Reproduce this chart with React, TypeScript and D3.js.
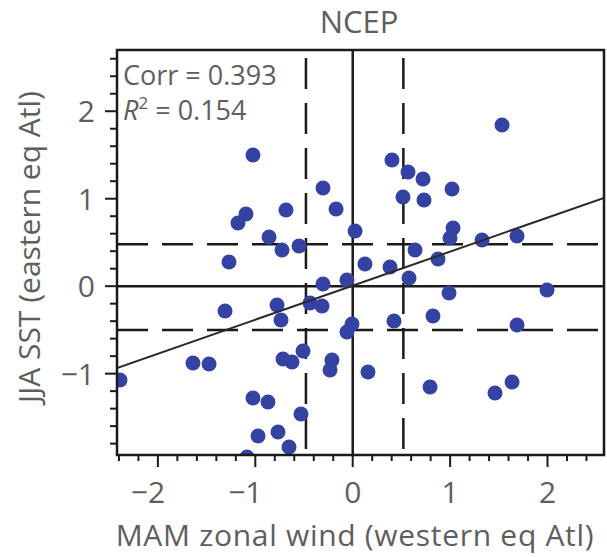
import React from "react";
import * as d3 from "d3";

const windX: number[] = [
  1.533, -1.024, 0.403, 0.568, 0.722, -0.305, 1.02, 0.516, 0.732, -0.171,
  -0.685, -1.096, -1.178, 0.024, -0.859, -0.726, -0.551, -1.27, 0.126, 0.383,
  1.03, 0.999, 0.64, 1.328, 1.687, 0.876, 0.578, -0.059, -0.305, 0.989,
  1.995, -0.777, -0.736, -0.438, -0.315, -1.311, -0.007, -0.059, -0.51, -0.716,
  -0.623, -0.213, -0.233, -1.64, -1.475, -2.389, -1.024, -0.87, -0.531, -0.972,
  -0.767, -0.654, -1.085, 0.824, 0.424, 1.687, 0.157, 0.794, 1.636, 1.461,
];
const sstY: number[] = [
  1.843, 1.5, 1.443, 1.306, 1.226, 1.123, 1.111, 1.02, 0.985, 0.883,
  0.871, 0.825, 0.723, 0.631, 0.562, 0.414, 0.46, 0.277, 0.254, 0.219,
  0.665, 0.551, 0.414, 0.528, 0.574, 0.311, 0.094, 0.071, 0.025, -0.078,
  -0.043, -0.215, -0.386, -0.192, -0.226, -0.284, -0.432, -0.524, -0.741, -0.832,
  -0.867, -0.844, -0.958, -0.878, -0.889, -1.072, -1.278, -1.324, -1.461, -1.713,
  -1.667, -1.838, -1.953, -0.341, -0.398, -0.444, -0.981, -1.152, -1.095, -1.221,
];

const xDomain: [number, number] = [-2.42, 2.58];
const yDomain: [number, number] = [-1.93, 2.7];
const xMajorTicks: number[] = [-2, -1, 0, 1, 2];
const yMajorTicks: number[] = [-1, 0, 1, 2];
const xMinorTicks: number[] = [-2.4, -2.2, -1.8, -1.6, -1.4, -1.2, -0.8, -0.6, -0.4, -0.2, 0.2, 0.4, 0.6, 0.8, 1.2, 1.4, 1.6, 1.8, 2.2, 2.4];
const yMinorTicks: number[] = [-1.8, -1.6, -1.4, -1.2, -0.8, -0.6, -0.4, -0.2, 0.2, 0.4, 0.6, 0.8, 1.2, 1.4, 1.6, 1.8, 2.2, 2.4, 2.6];

const solidX = 0;
const solidY = 0;
const dashedX: number[] = [-0.48, 0.52];
const dashedY: number[] = [0.48, -0.5];
const slope = 0.389;
const intercept = 0.006;

const title = "NCEP";
const xLabel = "MAM zonal wind (western eq Atl)";
const yLabel = "JJA SST (eastern eq Atl)";
const corrText = "Corr = 0.393";
const r2Value = " = 0.154";

export default function App() {
  const W = 607, H = 557;
  const left = 117, right = 604, top = 50, bottom = 455;
  const x = d3.scaleLinear().domain(xDomain).range([left, right]);
  const y = d3.scaleLinear().domain(yDomain).range([bottom, top]);
  const font = "'Open Sans', sans-serif";
  const textColor = "#5e5e5e";
  const dotColor = "#3442a3";
  const lineColor = "#1a1a1a";
  const points = windX.map((v, i) => [v, sstY[i]] as [number, number]);
  const reg = d3.line<number>().x((d) => x(d)).y((d) => y(slope * d + intercept));

  return (
    <svg width={W} height={H} style={{ position: "absolute", left: 0, top: 0, background: "#fff" }}>
      <defs>
        <clipPath id="plotclip">
          <rect x={left} y={top} width={right - left} height={bottom - top} />
        </clipPath>
      </defs>
      <rect x={0} y={0} width={W} height={H} fill="#fff" />
      <g clipPath="url(#plotclip)">
        {dashedX.map((v, i) => (
          <line key={"dx" + i} x1={x(v)} x2={x(v)} y1={top} y2={bottom} stroke={lineColor} strokeWidth={2.5} strokeDasharray="31,14" strokeDashoffset={-8} />
        ))}
        {dashedY.map((v, i) => (
          <line key={"dy" + i} x1={left} x2={right} y1={y(v)} y2={y(v)} stroke={lineColor} strokeWidth={2.5} strokeDasharray="31,14" />
        ))}
        <line x1={x(solidX)} x2={x(solidX)} y1={top} y2={bottom} stroke={lineColor} strokeWidth={2.5} />
        <line x1={left} x2={right} y1={y(solidY)} y2={y(solidY)} stroke={lineColor} strokeWidth={2.5} />
        {points.map((p, i) => (
          <circle key={i} cx={x(p[0])} cy={y(p[1])} r={7.5} fill={dotColor} />
        ))}
        <path d={reg(xDomain) || ""} stroke="#2a2a2a" strokeWidth={2} fill="none" />
      </g>
      <rect x={left} y={top} width={right - left} height={bottom - top} fill="none" stroke={lineColor} strokeWidth={2.5} />
      {xMinorTicks.map((t) => (
        <line key={"xm" + t} x1={x(t)} x2={x(t)} y1={bottom} y2={bottom + 6} stroke={lineColor} strokeWidth={2} />
      ))}
      {xMajorTicks.map((t) => (
        <line key={"xM" + t} x1={x(t)} x2={x(t)} y1={bottom} y2={bottom + 12} stroke={lineColor} strokeWidth={2} />
      ))}
      {xMajorTicks.map((t) => (
        <text key={"xl" + t} x={x(t) - (t < 0 ? 10 : 0)} y={503} textAnchor="middle" fontFamily={font} fontSize={30} fill={textColor}>
          {t < 0 ? "\u2212" + Math.abs(t) : String(t)}
        </text>
      ))}
      {yMinorTicks.map((t) => (
        <line key={"ym" + t} x1={left - 7} x2={left} y1={y(t)} y2={y(t)} stroke={lineColor} strokeWidth={2} />
      ))}
      {yMajorTicks.map((t) => (
        <line key={"yM" + t} x1={left - 12} x2={left} y1={y(t)} y2={y(t)} stroke={lineColor} strokeWidth={2} />
      ))}
      {yMajorTicks.map((t) => (
        <text key={"yl" + t} x={95} y={y(t) + 11} textAnchor="end" fontFamily={font} fontSize={30} fill={textColor}>
          {t < 0 ? "\u2212" + Math.abs(t) : String(t)}
        </text>
      ))}
      <text x={359} y={33} textAnchor="middle" fontFamily={font} fontSize={31} fill={textColor}>{title}</text>
      <text x={355} y={546} textAnchor="middle" fontFamily={font} fontSize={30} fill={textColor} letterSpacing={0.7}>{xLabel}</text>
      <text transform="translate(40,247) rotate(-90)" textAnchor="middle" fontFamily={font} fontSize={30} fill={textColor}>{yLabel}</text>
      <text x={123} y={85} fontFamily={font} fontSize={27} fill={textColor}>{corrText}</text>
      <text x={123} y={120} fontFamily={font} fontSize={27} fill={textColor}>
        <tspan fontStyle="italic">R</tspan>
        <tspan fontSize={17} dy={-11}>2</tspan>
        <tspan dy={11}>{r2Value}</tspan>
      </text>
    </svg>
  );
}
